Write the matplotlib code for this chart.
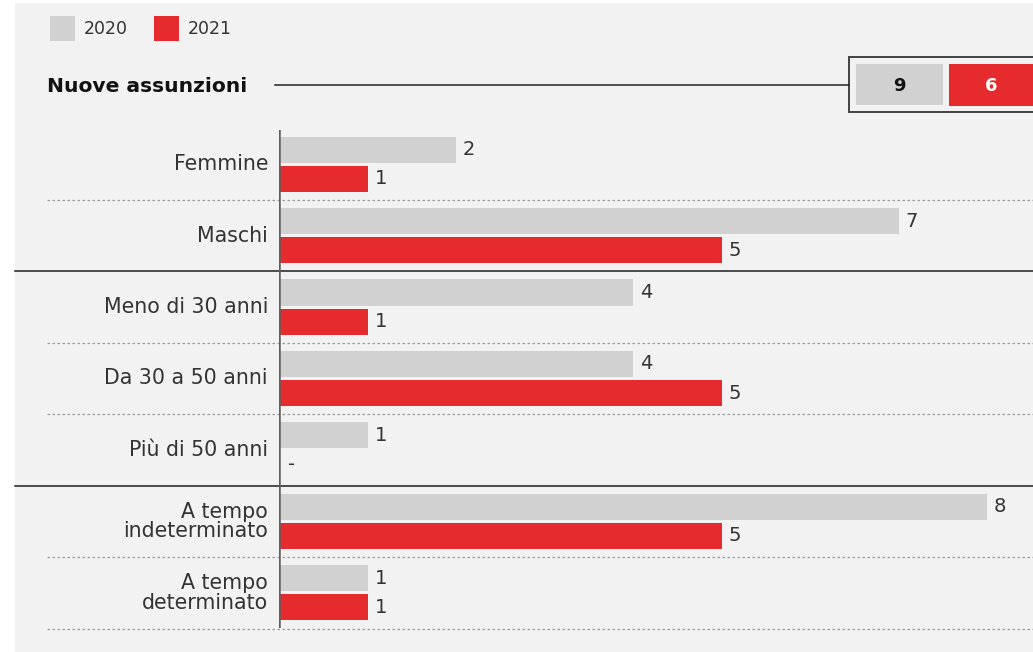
import matplotlib.pyplot as plt
from matplotlib.patches import Rectangle
import matplotlib.transforms as mtransforms

plt.rcParams['font.family'] = ['DejaVu Sans']

categories = ['Femmine', 'Maschi', 'Meno di 30 anni', 'Da 30 a 50 anni',
              'Più di 50 anni', 'A tempo\nindeterminato', 'A tempo\ndeterminato']
values_2020 = [2, 7, 4, 4, 1, 8, 1]
values_2021 = [1, 5, 1, 5, 0, 5, 1]
totals = [9, 6]
years = ['2020', '2021']
solid_after = [1, 4]   # group separators drawn as solid lines

GREY = '#d1d1d1'
RED = '#e52b2d'
BG = '#f2f2f2'
TXT = '#333333'

W, H = 1033, 652
fig = plt.figure(figsize=(W / 100, H / 100), dpi=100)
fig.patch.set_facecolor('white')


def fx(px):
    return px / W


def fy(py):
    return 1 - py / H


# light grey background panel
bg = fig.add_axes([fx(15), 0, 1 - fx(15), fy(3)], zorder=-10)
bg.set_facecolor(BG)
bg.set_xticks([])
bg.set_yticks([])
for s in bg.spines.values():
    s.set_visible(False)

# bar axes
ax_left, ax_top, ax_bot = 279, 130, 628
ax = fig.add_axes([fx(ax_left), fy(ax_bot), 1 - fx(ax_left), (ax_bot - ax_top) / H], zorder=5)
ax.set_facecolor('none')
ax.set_xlim(0, (W - ax_left) / 88.5)
ax.set_ylim(6.49, -0.476)
for s in ax.spines.values():
    s.set_visible(False)
ax.set_xticks([])
ax.set_yticks([])

pos = list(range(len(categories)))
h = 0.364
off = 0.203
ax.barh([p - off for p in pos], values_2020, height=h, color=GREY, zorder=2)
ax.barh([p + off for p in pos], values_2021, height=h, color=RED, zorder=2)

for p, v in zip(pos, values_2020):
    ax.text(v + 0.08, p - off, str(v) if v else '-', fontsize=14,
            color=TXT, va='center', ha='left')
for p, v in zip(pos, values_2021):
    ax.text(v + 0.08 if v else 0.1, p + off, str(v) if v else '-',
            fontsize=14, color=TXT, va='center', ha='left')

# category labels and separators
blend = mtransforms.blended_transform_factory(fig.transFigure, ax.transData)
for p, c in zip(pos, categories):
    ax.text(fx(268), p, c, transform=blend, ha='right', va='center',
            fontsize=14.8, color=TXT, linespacing=0.98)
    if p in solid_after:
        ax.plot([fx(15), 1], [p + 0.5, p + 0.5], transform=blend, color='#1e1e1e',
                lw=1.1, clip_on=False, zorder=1)
    else:
        ax.plot([fx(47), 1], [p + 0.5, p + 0.5], transform=blend, color='#9a9a9a',
                lw=0.9, ls=(0, (2, 2)), clip_on=False, zorder=1)

ax.axvline(0, color='#5e5e5e', lw=1.8, zorder=3)

# legend
for x0, col, lab in [(50, GREY, years[0]), (154, RED, years[1])]:
    fig.patches.append(Rectangle((fx(x0), fy(41)), fx(25), 25 / H,
                                 transform=fig.transFigure, facecolor=col, edgecolor='none'))
    fig.text(fx(x0 + 34), fy(28.5), lab, fontsize=12.5, color=TXT, va='center', ha='left')

# title + line
fig.text(fx(47), fy(86), 'Nuove assunzioni', fontsize=14.6, fontweight='bold',
         color='#111111', va='center', ha='left')
fig.add_artist(plt.Line2D([fx(275), fx(849)], [fy(85), fy(85)], color='#222222', lw=1.1,
                          transform=fig.transFigure))

# totals box
fig.patches.append(Rectangle((fx(849), fy(112)), fx(200), 55 / H, transform=fig.transFigure,
                             facecolor=BG, edgecolor='#444444', lw=1.4))
fig.patches.append(Rectangle((fx(856), fy(105)), fx(87), 41 / H, transform=fig.transFigure,
                             facecolor=GREY, edgecolor='none'))
fig.patches.append(Rectangle((fx(949), fy(106)), fx(100), 42 / H, transform=fig.transFigure,
                             facecolor=RED, edgecolor='none'))
fig.text(fx(899), fy(86), str(totals[0]), fontsize=13, fontweight='bold', color='#111111',
         ha='center', va='center')
fig.text(fx(991), fy(86), str(totals[1]), fontsize=13, fontweight='bold', color='white',
         ha='center', va='center')

fig.savefig('out.png', dpi=100)
